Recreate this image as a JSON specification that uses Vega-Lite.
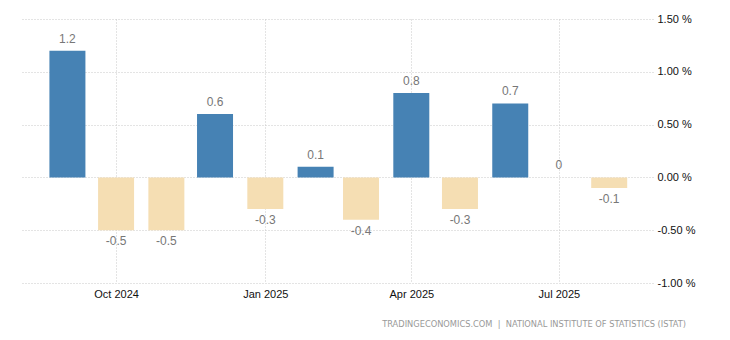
{
  "$schema": "https://vega.github.io/schema/vega-lite/v6.json",
  "width": 631,
  "height": 264,
  "autosize": {"type": "none"},
  "padding": {"left": 22, "top": 19, "right": 77, "bottom": 57},
  "background": "white",
  "title": {
    "text": "TRADINGECONOMICS.COM \u00a0|\u00a0 NATIONAL INSTITUTE OF STATISTICS (ISTAT)",
    "orient": "bottom",
    "anchor": "end",
    "frame": "group",
    "dx": 33,
    "offset": 21,
    "font": "Liberation Sans Narrow, DejaVu Sans Condensed, Liberation Sans, sans-serif",
    "fontSize": 9.2,
    "fontWeight": "normal",
    "color": "#999999"
  },
  "config": {
    "view": {"stroke": null},
    "axis": {
      "labelFont": "Liberation Sans",
      "labelFontSize": 11,
      "labelColor": "#111111",
      "gridColor": "#c8c8c8",
      "gridDash": [1, 2],
      "gridWidth": 1,
      "domain": false,
      "ticks": false,
      "title": null
    }
  },
  "data": {
    "values": [
      {"date": "2024-09-01T00:00:00", "value": 1.2},
      {"date": "2024-10-01T00:00:00", "value": -0.5},
      {"date": "2024-11-01T00:00:00", "value": -0.5},
      {"date": "2024-12-01T00:00:00", "value": 0.6},
      {"date": "2025-01-01T00:00:00", "value": -0.3},
      {"date": "2025-02-01T00:00:00", "value": 0.1},
      {"date": "2025-03-01T00:00:00", "value": -0.4},
      {"date": "2025-04-01T00:00:00", "value": 0.8},
      {"date": "2025-05-01T00:00:00", "value": -0.3},
      {"date": "2025-06-01T00:00:00", "value": 0.7},
      {"date": "2025-07-01T00:00:00", "value": 0},
      {"date": "2025-08-01T00:00:00", "value": -0.1}
    ]
  },
  "encoding": {
    "x": {
      "field": "date",
      "type": "temporal",
      "scale": {
        "nice": false,
        "padding": 0,
        "domain": [
          {"year": 2024, "month": 8, "date": 4},
          {"year": 2025, "month": 8, "date": 28}
        ]
      },
      "axis": {
        "orient": "bottom",
        "format": "%b %Y",
        "labelPadding": 5,
        "values": [
          {"year": 2024, "month": 10, "date": 1},
          {"year": 2025, "month": 1, "date": 1},
          {"year": 2025, "month": 4, "date": 1},
          {"year": 2025, "month": 7, "date": 1}
        ],
        "grid": true
      }
    },
    "y": {
      "field": "value",
      "type": "quantitative",
      "scale": {"domain": [-1, 1.5], "nice": false, "zero": true},
      "axis": {
        "orient": "right",
        "values": [-1, -0.5, 0, 0.5, 1, 1.5],
        "labelExpr": "replace(format(datum.value, '.2f'), '\u2212', '-') + ' %'",
        "labelPadding": 4,
        "grid": true
      }
    }
  },
  "layer": [
    {
      "mark": {"type": "bar", "size": 36},
      "encoding": {
        "color": {
          "condition": {"test": "datum.value >= 0", "value": "#4682B4"},
          "value": "#F5DEB3"
        }
      }
    },
    {
      "transform": [{"filter": "datum.value >= 0"}],
      "mark": {
        "type": "text",
        "baseline": "alphabetic",
        "dy": -8,
        "font": "Liberation Sans",
        "fontSize": 12,
        "color": "#777777"
      },
      "encoding": {"text": {"field": "value", "type": "nominal"}}
    },
    {
      "transform": [{"filter": "datum.value < 0"}],
      "mark": {
        "type": "text",
        "baseline": "top",
        "dy": 6,
        "font": "Liberation Sans",
        "fontSize": 12,
        "color": "#777777"
      },
      "encoding": {"text": {"field": "value", "type": "nominal"}}
    }
  ]
}
